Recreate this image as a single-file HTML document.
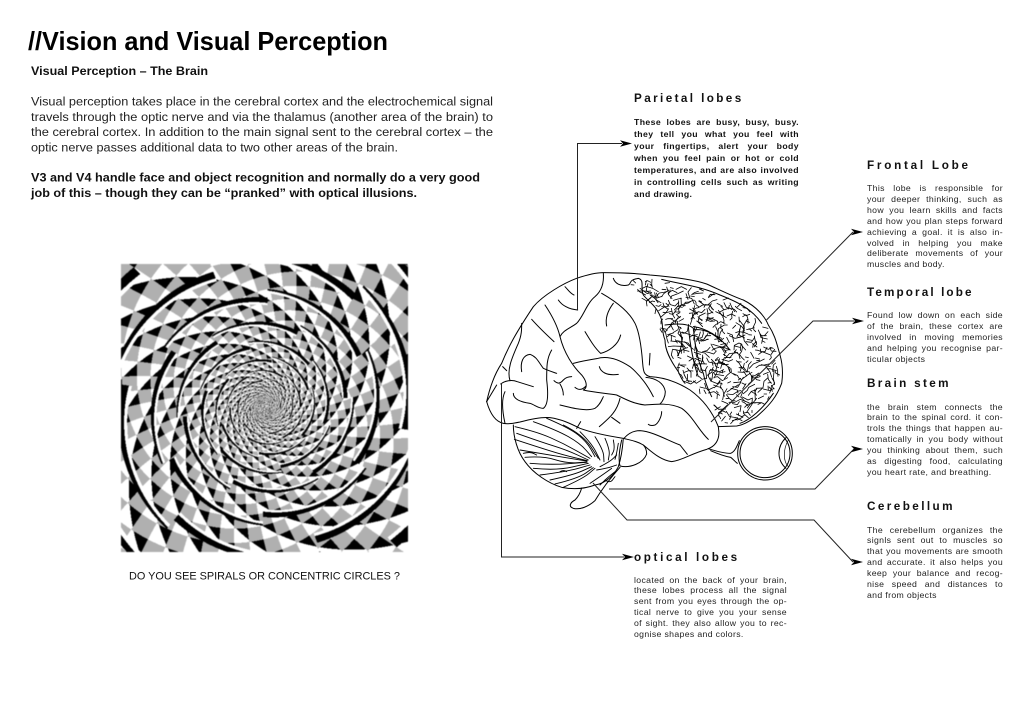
<!DOCTYPE html>
<html><head><meta charset="utf-8"><title>Vision and Visual Perception</title>
<style>
html,body{margin:0;padding:0;background:#fff}
#p{position:relative;width:1024px;height:724px;overflow:hidden;background:#fff;font-family:"Liberation Sans",sans-serif;color:#111}
svg{position:absolute;left:0;top:0}
canvas{position:absolute;left:121px;top:264px;width:287px;height:288px;background:#aaa;filter:blur(.4px)}
.h{position:absolute;font-weight:bold;font-size:11.7px;line-height:13px;white-space:nowrap;color:#111}
.b{position:absolute;font-size:8.7px;line-height:10.9px;letter-spacing:.35px;color:#222}
.b div{text-align:justify;text-align-last:justify;white-space:nowrap}
.b div.e{text-align-last:left}
.s{font-weight:bold;line-height:11.95px;color:#111;letter-spacing:.4px;font-size:8.7px}
</style></head><body><div id="p">
<canvas id="c" width="574" height="576"></canvas>
<svg width="1024" height="724" viewBox="0 0 1024 724" font-family="'Liberation Sans',sans-serif" fill="#111">
<defs><path id="ar" d="M-12 -3.2L0 0L-12 3.2L-9 0Z" fill="#000"/></defs>
<text x="28" y="50" font-size="26" font-weight="bold" fill="#000" textLength="360" lengthAdjust="spacingAndGlyphs">//Vision and Visual Perception</text>
<text x="31" y="75" font-size="12" font-weight="bold" textLength="177" lengthAdjust="spacingAndGlyphs">Visual Perception – The Brain</text>
<g font-size="12.2" fill="#222">
<text x="31" y="105.5" textLength="462" lengthAdjust="spacingAndGlyphs">Visual perception takes place in the cerebral cortex and the electrochemical signal</text>
<text x="31" y="120.8" textLength="462" lengthAdjust="spacingAndGlyphs">travels through the optic nerve and via the thalamus (another area of the brain) to</text>
<text x="31" y="136" textLength="462" lengthAdjust="spacingAndGlyphs">the cerebral cortex. In addition to the main signal sent to the cerebral cortex – the</text>
<text x="31" y="151.3" textLength="367" lengthAdjust="spacingAndGlyphs">optic nerve passes additional data to two other areas of the brain.</text>
</g>
<g font-size="12.2" font-weight="bold">
<text x="31" y="181.5" textLength="449" lengthAdjust="spacingAndGlyphs">V3 and V4 handle face and object recognition and normally do a very good</text>
<text x="31" y="197" textLength="386" lengthAdjust="spacingAndGlyphs">job of this – though they can be “pranked” with optical illusions.</text>
</g>
<text x="129" y="579.5" font-size="11.2" fill="#111" textLength="271" lengthAdjust="spacingAndGlyphs">DO YOU SEE SPIRALS OR CONCENTRIC CIRCLES ?</text>

<g transform="translate(480 260) scale(.33333)" fill="none" stroke="#000" stroke-width="3" stroke-linejoin="round" stroke-linecap="round" id="brain">
<path d="M20 425C30 380 45 340 65 310C85 260 110 215 160 140C190 105 250 70 290 55C320 45 345 38 370 38C420 38 470 40 510 45C570 50 640 58 680 72C720 90 760 110 790 120C830 140 855 170 865 195C885 225 890 250 900 285C910 320 908 350 905 370C890 410 870 435 830 470C805 485 790 495 770 498L715 500"/>
<path d="M20 425C30 460 45 485 70 490C85 493 100 490 120 486C150 478 185 470 210 473C245 478 270 490 300 505C340 520 385 528 430 535C445 540 465 540 490 555C515 575 540 600 575 605C610 600 630 582 680 568C705 560 720 540 716 510L715 500"/>
<path d="M100 495C100 530 112 575 135 605C160 640 205 670 245 682C275 688 310 688 345 675C380 670 405 640 415 620C425 590 428 560 430 535"/>
<path d="M425 540C418 570 415 600 420 618C450 625 490 610 500 582C500 570 495 560 490 555"/>
<path d="M420 622C395 650 370 680 345 722C325 740 300 750 280 745C265 740 270 728 285 720C295 710 302 695 305 684"/>
<path d="M195 135C215 165 232 195 240 230C252 280 280 320 305 345C325 370 320 385 310 390C345 398 380 400 410 405C440 420 465 432 495 435C530 432 570 428 605 445C640 470 655 510 685 538"/>
<path d="M370 40C372 65 368 90 345 110C320 130 310 170 290 190C270 205 250 210 240 230"/>
<path d="M365 100C400 120 445 150 465 190C480 220 485 270 488 310C490 335 492 345 510 350C555 352 595 368 630 390C665 415 695 450 715 500"/>
<path d="M280 310C300 305 325 300 350 296M350 296C385 285 420 300 450 320C480 345 505 380 520 410"/>
<path d="M315 215C330 240 345 265 362 280C385 275 415 255 422 225"/>
<path d="M400 130C385 150 375 175 380 198"/>
<path d="M358 320C362 335 378 348 415 343"/>
<path d="M510 280L508 315"/>
<path d="M498 352C530 355 552 370 556 395C556 410 548 425 540 432"/>
<path d="M545 455C545 470 535 490 525 495C515 498 510 497 505 493"/>
<path d="M358 500C380 480 410 460 420 415"/>
<path d="M395 472L420 490"/>
<path d="M432 535C445 520 460 512 480 512C520 515 560 540 600 555L622 583"/>
<path d="M240 435C280 445 320 455 345 445C360 435 365 420 370 410"/>
<path d="M290 505L302 485"/>
<path d="M62 372C75 362 95 358 112 365L160 380"/>
<path d="M75 395C65 415 65 445 75 490"/>
<path d="M100 400C100 415 115 425 150 430C165 435 175 445 190 445C205 435 205 400 200 360C200 320 200 295 215 270"/>
<path d="M125 335C120 305 130 285 150 283C170 290 175 305 190 325C205 332 215 335 230 340"/>
<path d="M90 362C80 330 95 295 115 250C125 225 125 210 125 190"/>
<path d="M155 178C170 195 195 220 222 245"/>
<path d="M235 120C245 135 265 148 293 150"/>
<path d="M255 80C265 90 270 100 282 105"/>
<path d="M222 362C232 372 240 372 250 360C258 352 268 350 275 350M240 372C248 385 250 395 250 405"/>
<path d="M285 382C295 390 305 392 318 378"/>
<path d="M68 320L80 332"/>
<path d="M50 375L20 425"/>
<path d="M400 55C405 70 420 80 445 75C455 70 445 60 475 55C495 60 480 85 490 105C505 125 530 135 545 180C550 205 545 215 555 240C555 270 570 300 595 335C600 345 605 360 615 370"/>
<path d="M555 195C590 190 625 190 640 205C645 250 650 295 670 340C675 365 685 390 695 410"/>
<path d="M640 210C670 205 700 220 725 245"/>
<path d="M600 215C610 240 605 260 595 285M625 200C630 250 640 310 655 350"/>
<path d="M545 58C600 72 660 78 720 105C770 125 815 145 845 190"/>
<path d="M640 200C680 205 720 230 750 270M780 490C810 480 850 445 880 400"/>
<!-- eye -->
<ellipse cx="855" cy="580" rx="82" ry="80"/>
<ellipse cx="855" cy="580" rx="75" ry="73"/>
<path d="M918 533C890 560 890 600 918 625"/>
<path d="M925 540C908 570 910 605 925 620" stroke-width="2"/>
<path d="M685 566C710 574 735 580 752 580C765 575 770 560 778 542"/>
<path d="M692 572C715 582 740 590 752 592C760 598 765 605 772 610"/>
</g>

<g fill="none" stroke="#222" stroke-width="1">
<path d="M577.5 310V143.500H622"/>
<path d="M766.500 320L853 232"/>
<path d="M711 422L813 321H854"/>
<path d="M609 489H815L854 449"/>
<path d="M593 483L627 520H814L853 562"/>
<path d="M501.500 383V557H624"/>
</g>
<use href="#ar" x="632" y="143.500"/>
<use href="#ar" x="863" y="232"/>
<use href="#ar" x="864" y="321"/>
<use href="#ar" x="863" y="449"/>
<use href="#ar" x="863" y="562"/>
<use href="#ar" x="634" y="557"/>
</svg>

<div class="h" style="left:634px;top:92px;letter-spacing:2.4px">Parietal lobes</div>
<div class="b s" style="left:634px;top:117px;width:165px">
<div>These lobes are busy, busy, busy.</div>
<div>they tell you what you feel with</div>
<div>your fingertips, alert your body</div>
<div>when you feel pain or hot or cold</div>
<div>temperatures, and are also involved</div>
<div>in controlling cells such as writing</div>
<div class="e">and drawing.</div>
</div>

<div class="h" style="left:867px;top:159px;letter-spacing:2.75px">Frontal Lobe</div>
<div class="b" style="left:867px;top:183px;width:136px">
<div>This lobe is responsible for</div>
<div>your deeper thinking, such as</div>
<div>how you learn skills and facts</div>
<div>and how you plan steps forward</div>
<div>achieving a goal. it is also in-</div>
<div>volved in helping you make</div>
<div>deliberate movements of your</div>
<div class="e">muscles and body.</div>
</div>

<div class="h" style="left:867px;top:286px;letter-spacing:2.12px">Temporal lobe</div>
<div class="b" style="left:867px;top:310px;width:136px">
<div>Found low down on each side</div>
<div>of the brain, these cortex are</div>
<div>involved in moving memories</div>
<div>and helping you recognise par-</div>
<div class="e">ticular objects</div>
</div>

<div class="h" style="left:867px;top:377px;letter-spacing:2.34px">Brain stem</div>
<div class="b" style="left:867px;top:401.500px;width:136px">
<div>the brain stem connects the</div>
<div>brain to the spinal cord. it con-</div>
<div>trols the things that happen au-</div>
<div>tomatically in you body without</div>
<div>you thinking about them, such</div>
<div>as digesting food, calculating</div>
<div class="e">you heart rate, and breathing.</div>
</div>

<div class="h" style="left:867px;top:500px;letter-spacing:2.43px">Cerebellum</div>
<div class="b" style="left:867px;top:524.500px;width:136px">
<div>The cerebellum organizes the</div>
<div>signls sent out to muscles so</div>
<div>that you movements are smooth</div>
<div>and accurate. it also helps you</div>
<div>keep your balance and recog-</div>
<div>nise speed and distances to</div>
<div class="e">and from objects</div>
</div>

<div class="h" style="left:634px;top:550.500px;letter-spacing:2.64px">optical lobes</div>
<div class="b" style="left:634px;top:574.500px;width:153px">
<div>located on the back of your brain,</div>
<div>these lobes process all the signal</div>
<div>sent from you eyes through the op-</div>
<div>tical nerve to give you your sense</div>
<div>of sight. they also allow you to rec-</div>
<div class="e">ognise shapes and colors.</div>
</div>
</div>
<script>
(function(){
var cv=document.getElementById('c'),g=cv.getContext('2d'),W=574,H=576,im=g.createImageData(W,H),d=im.data;
var R=.28,M=6,TP=2*Math.PI,N=56,T=TP/N;
function fr(a){return a-Math.floor(a)}
for(var y=0;y<H;y++)for(var x=0;x<W;x++){
 var dx=x/2-144,dy=y/2-143,r=Math.sqrt(dx*dx+dy*dy)+.01,th=Math.atan2(dy,dx),l=Math.log(r);
 var w=(l-Math.log(36))/R,c=176;
 var u0=th/TP*N,v0=l/T;
 var u=u0+.25*v0,v=v0-.25*u0;
 var iu=Math.floor(u),iv=Math.floor(v),fu=u-iu,fv=v-iv;
 if(((iu+iv)%2+2)%2!=0){ c=(fu+fv<.85)?0:255; }
 var k0=Math.floor(w);
 for(var k=k0-1;k<=k0+2;k++){
  var t=fr(th/TP*M+k*.37),de=w-(k-.4*(t-.5));
  if(de>0&&de<.05+.13*t){c=0}
  else if(de<0&&de>-.08){c=255}
 }
 var i=(y*W+x)*4;d[i]=d[i+1]=d[i+2]=c;d[i+3]=255;
}
g.putImageData(im,0,0);

var NS='http://www.w3.org/2000/svg',B=document.getElementById('brain'),s=20240611;
function rnd(){s=(s+0x6D2B79F5)|0;var t=Math.imul(s^(s>>>15),1|s);t=(t+Math.imul(t^(t>>>7),61|t))^t;return((t^(t>>>14))>>>0)/4294967296}
function add(p,sw){var e=document.createElementNS(NS,'path');e.setAttribute('d',p);if(sw)e.setAttribute('stroke-width',sw);B.appendChild(e)}
var P=[[430,60],[500,55],[640,68],[780,125],[860,190],[900,300],[900,370],[830,465],[770,492],[720,495],[690,420],[610,370],[565,290],[550,225],[490,120]];
function inP(x,y){var o=false;for(var i=0,j=P.length-1;i<P.length;j=i++){var a=P[i],b=P[j];if((a[1]>y)!=(b[1]>y)&&x<(b[0]-a[0])*(y-a[1])/(b[1]-a[1])+a[0])o=!o}return o}
for(var gy=55;gy<495;gy+=17)for(var gx=430;gx<910;gx+=17){
 var x=gx+rnd()*17,y=gy+rnd()*17;if(!inP(x,y))continue;
 var p='M'+x.toFixed(0)+' '+y.toFixed(0),a=rnd()*TP,st=1+Math.floor(rnd()*3);
 for(var q=0;q<st;q++){var ln=7+rnd()*14;x+=Math.cos(a)*ln;y+=Math.sin(a)*ln;if(!inP(x,y))break;p+='L'+x.toFixed(0)+' '+y.toFixed(0);a+=(rnd()-.5)*2.4}
 add(p,2.4);
}
var C=[
[[45,80],[110,95],[190,130],[270,175]],[[50,100],[120,125],[200,150],[265,180]],[[43,118],[110,140],[190,165],[262,182]],
[[60,150],[150,165],[210,175],[260,183]],[[75,172],[130,168],[200,190],[262,186]],[[90,190],[150,195],[260,187]],[[100,205],[170,212],[265,190]],
[[120,225],[200,215],[270,195]],[[150,240],[220,225],[275,200]],[[190,262],[250,235],[285,205]],[[165,252],[235,235],[280,203]],
[[100,65],[170,90],[240,130],[275,170]],[[140,55],[210,85],[260,125],[285,170]],[[190,75],[250,105],[295,175]],
[[240,95],[275,130],[300,180]],[[285,110],[310,150],[312,185]],[[315,115],[330,150],[325,180]],[[340,120],[345,145],[335,165]],[[355,130],[350,160],[345,178]],
[[300,200],[330,185],[350,165]],[[290,210],[320,205],[350,195]],[[270,250],[300,230],[335,205]],[[300,255],[320,235],[345,215]],[[315,240],[330,250],[345,230]],
[[70,160],[90,155],[110,165]],[[180,215],[190,210],[200,215]]];
for(var ci=0;ci<C.length;ci++){var L=C[ci],pp='M'+(L[0][0]+60)+' '+(L[0][1]+420);
 for(var j=1;j<L.length-1;j++){var mx=(L[j][0]+L[j+1][0])/2,my=(L[j][1]+L[j+1][1])/2;pp+='Q'+(L[j][0]+60)+' '+(L[j][1]+420)+' '+(mx+60)+' '+(my+420)}
 var E=L[L.length-1];pp+='L'+(E[0]+60)+' '+(E[1]+420);add(pp,2.7)}
})();
</script>
</body></html>
